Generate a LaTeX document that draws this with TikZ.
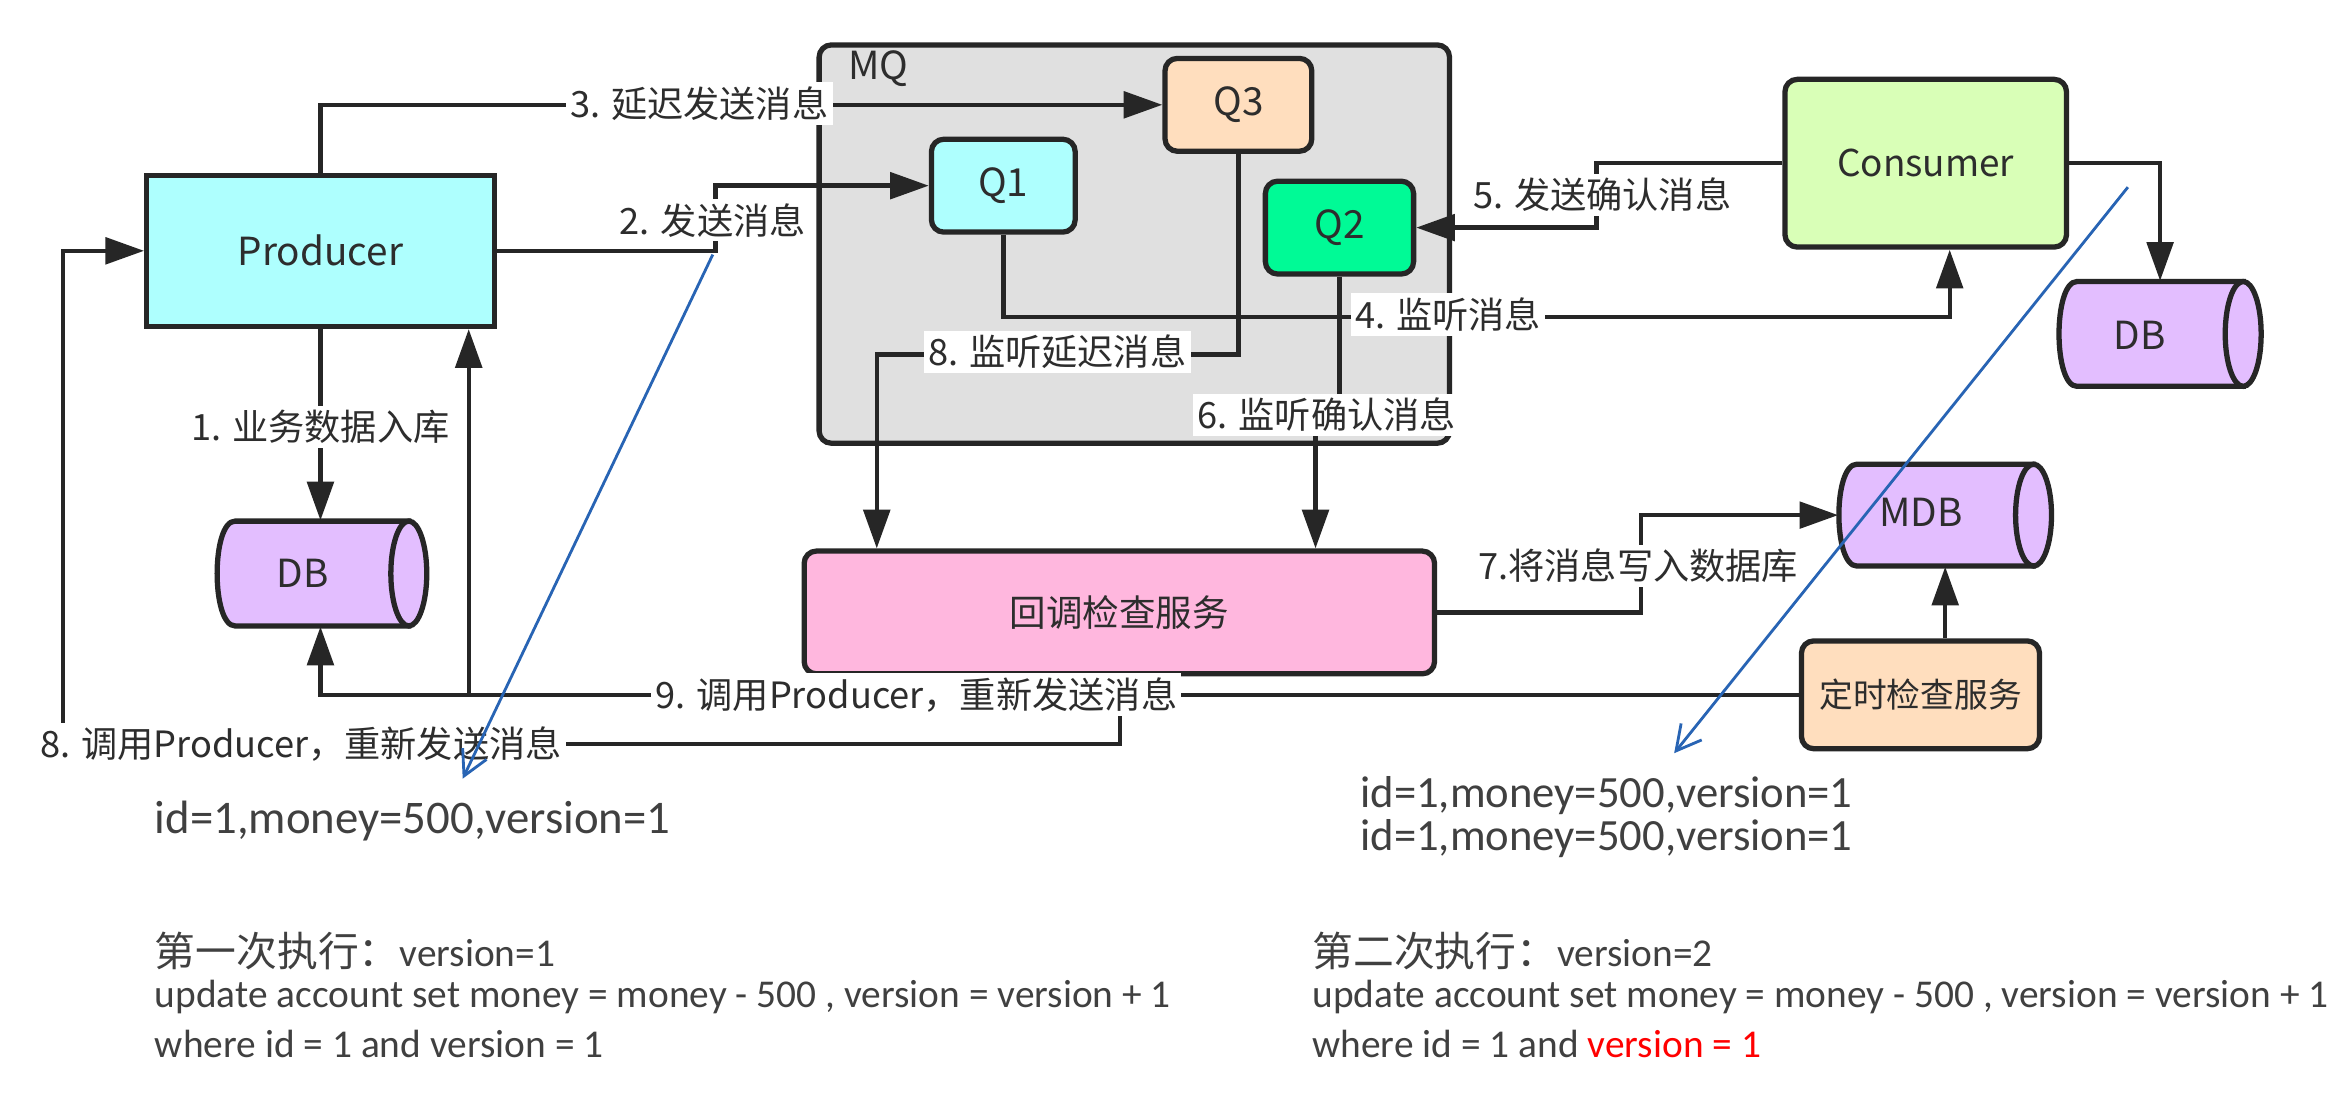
\documentclass[tikz,border=0pt]{standalone}
\usepackage{fontspec}
\setmainfont{Carlito}
\newfontfamily\cjk{Noto Sans CJK SC}
\usetikzlibrary{arrows.meta,calc,fit}
\definecolor{linec}{RGB}{38,38,38}
\definecolor{txt}{RGB}{45,45,45}
\definecolor{btc}{RGB}{64,64,64}
\definecolor{cyanf}{RGB}{174,255,254}
\definecolor{peach}{RGB}{255,222,190}
\definecolor{greenf}{RGB}{0,250,150}
\definecolor{limef}{RGB}{217,255,183}
\definecolor{pinkf}{RGB}{255,183,222}
\definecolor{mqf}{RGB}{224,224,224}
\definecolor{dbc}{RGB}{227,190,255}
\definecolor{bluec}{RGB}{40,100,180}
\tikzset{
 conn/.style={draw=linec, line width=1.25pt, -{Triangle[length=11pt,width=7.5pt]}},
 boxbase/.style={draw=linec, line width=1.5pt, inner sep=0pt},
 rbox/.style={boxbase, rounded corners=3.5pt},
 lbl/.style={fill=white, inner sep=1.2pt, text=txt, font=\cjk\fontsize{10.3}{12}\selectfont},
 cyl/.style={draw=linec, line width=1.5pt, fill=dbc},
 ctext/.style={text=txt, inner sep=0pt, font=\cjk\fontsize{11}{13}\selectfont},
 btxt/.style={inner sep=0pt, anchor=west, text=btc, font=\fontsize{11.2}{13}\selectfont},
 idtxt/.style={inner sep=0pt, anchor=west, text=btc},
 note/.style={draw=bluec, line width=0.8pt, -{Straight Barb[length=7pt,width=7.5pt]}},
}
\begin{document}
\begin{tikzpicture}[x=0.014974cm,y=-0.014974cm]
\useasboundingbox[fill=white] (0,0) rectangle (1568,731);

% MQ container
\node[rbox, fill=mqf, fit={(547,30)(968,296)}] (mq) {};
\node[ctext, anchor=west] (mqt) at (566,46) {MQ};

% boxes
\node[boxbase, fill=cyanf, fit={(98,117)(330,218)}, label={[ctext]center:Producer}] (prod) {};
\node[rbox, fill=peach, fit={(778,39)(876,101)}, label={[ctext]center:Q3}] (q3) {};
\node[rbox, fill=cyanf, fit={(622,93)(718,155)}, label={[ctext]center:Q1}] (q1) {};
\node[rbox, fill=greenf, fit={(845,121)(944,183)}, label={[ctext]center:Q2}] (q2) {};
\node[rbox, fill=limef, fit={(1192,53)(1380,165)}, label={[ctext, font=\cjk\fontsize{10.5}{13}\selectfont]center:Consumer}] (cons) {};
\node[rbox, fill=pinkf, fit={(537,368)(958,450)}, label={[ctext, font=\cjk\fontsize{10.4}{13}\selectfont]center:回调检查服务}] (cb) {};
\node[rbox, fill=peach, fit={(1203,428)(1362,500)}, label={[ctext, font=\cjk\fontsize{9.6}{11}\selectfont]center:定时检查服务}] (ds) {};

% cylinders
\node[inner sep=0pt, fit={(145,348)(285,418)}] (dbL) {};
\draw[cyl] (273,348) -- (157,348) .. controls (141,348) and (141,418) .. (157,418) -- (273,418) -- cycle;
\draw[cyl] (273,383) ellipse [x radius=12, y radius=35];
\node[ctext] (dbLt) at (202,383) {DB};

\node[inner sep=0pt, fit={(1375,188)(1510,258)}] (dbR) {};
\draw[cyl] (1498,188) -- (1387,188) .. controls (1371,188) and (1371,258) .. (1387,258) -- (1498,258) -- cycle;
\draw[cyl] (1498,223) ellipse [x radius=12, y radius=35];
\node[ctext] (dbRt) at (1429,224) {DB};

\node[inner sep=0pt, fit={(1228,310)(1370,378)}] (mdb) {};
\draw[cyl] (1358,310) -- (1240,310) .. controls (1224,310) and (1224,378) .. (1240,378) -- (1358,378) -- cycle;
\draw[cyl] (1358,344) ellipse [x radius=12, y radius=34];
\node[ctext] (mdbt) at (1283,342) {MDB};

% connectors
\draw[conn] (prod.north) |- (q3.west);
\draw[conn] (prod.east) -- ++(146,0) |- (q1.west);
\draw[conn] (q1.south) -- ++(0,55) -| ($(cons.south)+(16,0)$);
\draw[conn] (cons.west) -- ++(-124,0) |- (q2.east);
\draw[conn] (q2.south) -- ++(0,94) -| ($(cb.north)+(131,0)$);
\draw[conn] (q3.south) -- ++(0,134) -| ($(cb.north)+(-162,0)$);
\draw[conn] (cb.east) -- ++(136,0) |- (mdb.west);
\draw[conn] (cons.east) -| (dbR.north);
\draw[conn] (mdb.south |- ds.north) -- (mdb.south);
\draw[conn] (prod.south) -- (prod.south |- dbL.north);
\draw[conn] (ds.west) -| (prod.south |- dbL.south);
\coordinate (j9) at (313,464);
\draw[conn] (j9) -- (j9 |- prod.south);
\coordinate (j8) at (748,464);
\draw[conn] (j8) -- (748,497) -- (42,497) |- (prod.west);

% labels
\node[lbl] (l1) at (214,285) {1. 业务数据入库};
\node[lbl] (l2) at (476,147) {2. 发送消息};
\node[lbl] (l3) at (467,69) {3. 延迟发送消息};
\node[lbl] (l4) at (967,210) {4. 监听消息};
\node[lbl] (l5) at (1070,130) {5. 发送确认消息};
\node[lbl] (l6) at (886,277) {6. 监听确认消息};
\node[lbl] (l7) at (1094,378) {7.将消息写入数据库};
\node[lbl] (l8) at (706,235) {8. 监听延迟消息};
\node[lbl] (l8b) at (201,497) {8. 调用Producer，重新发送消息};
\node[lbl] (l9) at (612,464) {9. 调用Producer，重新发送消息};

% blue annotation arrows
\coordinate (b1s) at (476,170);
\coordinate (b1e) at (309,520);
\draw[note] (b1s) -- (b1e);
\coordinate (b2s) at (1421,125);
\coordinate (b2e) at (1118,503);
\draw[note] (b2s) -- (b2e);

% bottom texts
\node[idtxt, font=\fontsize{13.3}{16}\selectfont] (idl) at (103,548) {id=1,money=500,version=1};
\node[idtxt, font=\fontsize{12.7}{15}\selectfont] (idr1) at (908,531) {id=1,money=500,version=1};
\node[idtxt, font=\fontsize{12.7}{15}\selectfont] (idr2) at (908,560) {id=1,money=500,version=1};

\node[btxt] (a1) at (103,635) {{\cjk\fontsize{11.6}{13}\selectfont 第一次执行：}version=1};
\node[btxt] (a2) at (103,666) {update account set money = money - 500 , version = version + 1};
\node[btxt] (a3) at (103,697) {where id = 1 and version = 1};

\node[btxt] (c1) at (876,635) {{\cjk\fontsize{11.6}{13}\selectfont 第二次执行：}version=2};
\node[btxt] (c2) at (876,666) {update account set money = money - 500 , version = version + 1};
\node[btxt] (c3) at (876,697) {where id = 1 and \textcolor{red}{version = 1}};
\end{tikzpicture}
\end{document}
